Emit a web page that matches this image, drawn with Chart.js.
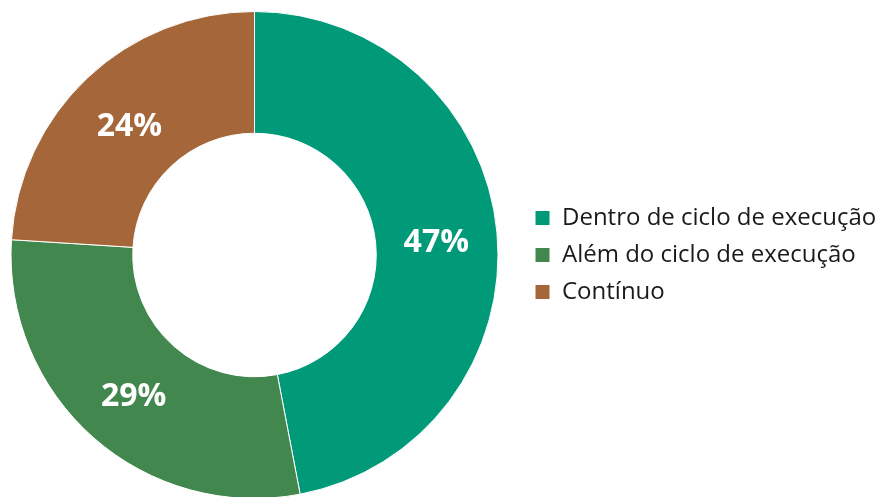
<!DOCTYPE html>
<html>
<head>
<meta charset="utf-8">
<script src="https://cdn.jsdelivr.net/npm/chart.js@4/dist/chart.umd.min.js"></script>
<style>
  html, body { margin: 0; padding: 0; background: #fff; overflow: hidden; width: 875px; height: 497px; }
  #wrap { position: absolute; left: -17px; top: 0; width: 897px; height: 510px; }
</style>
</head>
<body>
<div id="wrap"><canvas id="c" width="897" height="510"></canvas></div>
<script>
const categories = ["Dentro de ciclo de execução", "Além do ciclo de execução", "Contínuo"];
const values = [47, 29, 24];
const valueLabels = ["47%", "29%", "24%"];
const colors = ["#009a78", "#42874e", "#a5673a"];

const sliceLabels = {
  id: 'sliceLabels',
  afterDatasetsDraw(chart) {
    const ctx = chart.ctx;
    const meta = chart.getDatasetMeta(0);
    ctx.save();
    ctx.fillStyle = '#ffffff';
    ctx.font = 'bold 32px "Open Sans"';
    ctx.textAlign = 'center';
    ctx.textBaseline = 'middle';
    meta.data.forEach((arc, i) => {
      const p = arc.tooltipPosition();
      ctx.fillText(valueLabels[i], p.x, p.y + 5);
    });
    ctx.restore();
  }
};

new Chart(document.getElementById('c'), {
  type: 'doughnut',
  data: {
    labels: categories,
    datasets: [{
      data: values,
      backgroundColor: colors,
      borderColor: '#ffffff',
      borderWidth: 1,
      hoverOffset: 0
    }]
  },
  options: {
    responsive: false,
    animation: false,
    cutout: '50%',
    layout: { padding: { top: 11, bottom: 11, left: 4, right: 0 } },
    plugins: {
      tooltip: { enabled: false },
      legend: {
        position: 'right',
        align: 'center',
        maxWidth: 358,
        labels: {
          boxWidth: 15,
          boxHeight: 15,
          padding: 13,
          color: '#1a1a1a',
          font: { family: '"Open Sans"', size: 24 }
        }
      }
    }
  },
  plugins: [sliceLabels]
});
</script>
</body>
</html>
